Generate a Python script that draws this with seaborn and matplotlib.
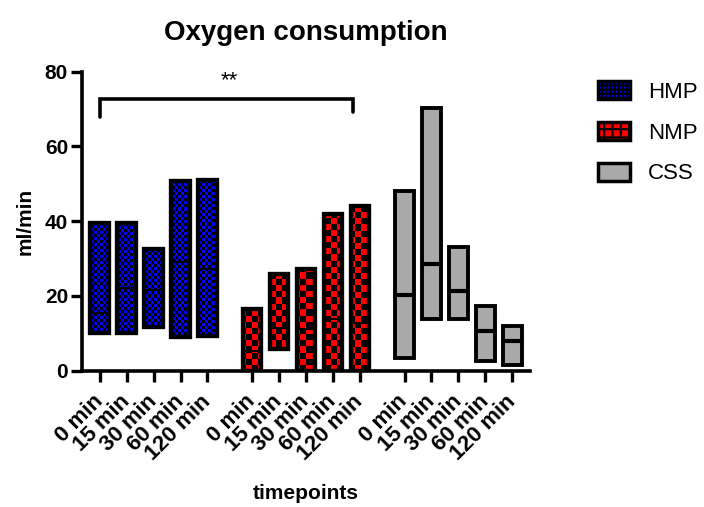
import numpy as np
import pandas as pd
import matplotlib
matplotlib.use("Agg")
import matplotlib.pyplot as plt
import seaborn as sns
from matplotlib.patches import Patch

# ---------------- data ----------------
groups = ["HMP", "NMP", "CSS"]
timepoints = ["0 min", "15 min", "30 min", "60 min", "120 min"]

hmp_min = [10.0, 10.1, 11.6, 9.1, 9.4]
hmp_max = [39.5, 39.5, 32.5, 50.7, 50.9]
hmp_med = [15.4, 22.0, 21.6, 29.0, 27.3]

nmp_min = [0.0, 5.9, 0.0, 0.0, 0.0]
nmp_max = [16.5, 25.8, 27.3, 41.8, 44.1]
nmp_med = [5.4, 11.3, 11.1, 13.8, 12.7]

css_min = [3.5, 13.8, 13.8, 2.6, 1.6]
css_max = [48.0, 70.3, 33.0, 17.3, 12.0]
css_med = [20.3, 28.5, 21.4, 10.7, 8.0]

y_ticks = [0, 20, 40, 60, 80]
sig_label = "**"

# ---------------- style ----------------
sns.set_theme(style="ticks")
plt.rcParams["font.family"] = ["Liberation Sans", "DejaVu Sans"]
plt.rcParams["hatch.linewidth"] = 1.6
for k in ["text.color", "axes.labelcolor", "xtick.color", "ytick.color",
          "axes.edgecolor"]:
    plt.rcParams[k] = "black"

colors = {"HMP": "#0000FF", "NMP": "#FF0000", "CSS": "#A9A9A9"}
checker_px = {"HMP": 3, "NMP": 6, "CSS": None}
group_offsets = {"HMP": 0.0, "NMP": 5.65, "CSS": 11.3}

rows = []
for g, lo, hi, md in [("HMP", hmp_min, hmp_max, hmp_med),
                      ("NMP", nmp_min, nmp_max, nmp_med),
                      ("CSS", css_min, css_max, css_med)]:
    for i, tp in enumerate(timepoints):
        rows.append(dict(group=g, timepoint=tp, pos=group_offsets[g] + i,
                         low=lo[i], high=hi[i], median=md[i]))
df = pd.DataFrame(rows)
df["span"] = df["high"] - df["low"]

W, H = 704, 507
fig = plt.figure(figsize=(W / 100, H / 100), dpi=100)
ax_l, ax_r, ax_t, ax_b = 82, 530, 71.7, 370.7
ax = fig.add_axes([ax_l / W, 1 - ax_b / H, (ax_r - ax_l) / W, (ax_b - ax_t) / H])

xlim = (-0.65, 15.95)
ylim = (0, 80)

bar_width = 0.68
for g in groups:
    sub = df[df["group"] == g].sort_values("pos")
    n_before = len(ax.patches)
    sns.barplot(data=sub, x="pos", y="span", native_scale=True,
                bottom=sub["low"].values, width=bar_width,
                color=colors[g], edgecolor="black",
                linewidth=3.0 if g != "CSS" else 2.8,
                errorbar=None, ax=ax, zorder=2)
    bars = ax.patches[n_before:]
    for b in bars:
        b.set_facecolor(colors[g])
        b.set_edgecolor("black")
    # checker overlay
    cp = checker_px[g]
    if cp:
        ncol = int((ax_r - ax_l) / cp)
        nrow = int((ax_b - ax_t) / cp)
        jj, ii = np.meshgrid(np.arange(ncol), np.arange(nrow))
        chk = ((ii + jj) % 2 == 0)
        img = np.zeros((nrow, ncol, 4))
        img[..., 3] = chk.astype(float)
        for b in bars:
            im = ax.imshow(img, extent=(xlim[0], xlim[1], ylim[0], ylim[1]),
                           aspect="auto", interpolation="nearest",
                           origin="lower", zorder=2.5)
            im.set_clip_path(b)
        # redraw outline above the overlay
        for b in bars:
            x0, y0 = b.get_x(), b.get_y()
            ax.add_patch(plt.Rectangle((x0, y0), b.get_width(), b.get_height(),
                                       fill=False, edgecolor="black",
                                       linewidth=3.0, zorder=2.6))
    # median lines
    med_lw = 1.4 if g != "CSS" else 3.0
    ax.hlines(sub["median"], sub["pos"] - bar_width / 2, sub["pos"] + bar_width / 2,
              colors="black", linewidth=med_lw, zorder=3)

ax.set_xlim(*xlim)
ax.set_ylim(*ylim)
ax.set_xticks(df["pos"])
ax.set_xticklabels(df["timepoint"], rotation=45, ha="right", va="center",
                   rotation_mode="anchor", fontsize=16, fontweight="bold")
ax.set_yticks(y_ticks)
ax.set_yticklabels([str(v) for v in y_ticks], fontsize=15, fontweight="bold")
ax.tick_params(axis="both", length=8, width=2.4, color="black", labelcolor="black", pad=2)
ax.tick_params(axis="x", pad=12)
for s in ["top", "right"]:
    ax.spines[s].set_visible(False)
for s in ["left", "bottom"]:
    ax.spines[s].set_linewidth(2.6)
    ax.spines[s].set_color("black")

ax.set_xlabel("timepoints", fontsize=15, fontweight="bold")
ax.xaxis.set_label_coords(0.5, -0.38)
ax.set_ylabel("ml/min", fontsize=15, fontweight="bold")
ax.yaxis.set_label_coords(-0.105, 0.5)
ax.set_title("Oxygen consumption", fontsize=20, fontweight="bold", pad=23)

# significance bracket
ax.plot([0, 0, 9.4, 9.4], [68.0, 72.7, 72.7, 69.3], color="black", lw=2.6,
        solid_capstyle="round", solid_joinstyle="miter", clip_on=False, zorder=4)
ax.text(4.8, 77.5, sig_label, ha="center", va="center", fontsize=16)

# legend
handles = [Patch(facecolor=colors["HMP"], edgecolor="black", hatch="++++", linewidth=2.5),
           Patch(facecolor=colors["NMP"], edgecolor="black", hatch="++", linewidth=2.5),
           Patch(facecolor=colors["CSS"], edgecolor="black", linewidth=2.5)]
fig.legend(handles, groups, loc="upper left",
           bbox_to_anchor=(598 / W, 1 - 81 / H), frameon=False,
           fontsize=16, handlelength=1.45, handleheight=0.9,
           handletextpad=0.8, labelspacing=0.85, borderpad=0, borderaxespad=0)

fig.savefig("out.png", dpi=100)
